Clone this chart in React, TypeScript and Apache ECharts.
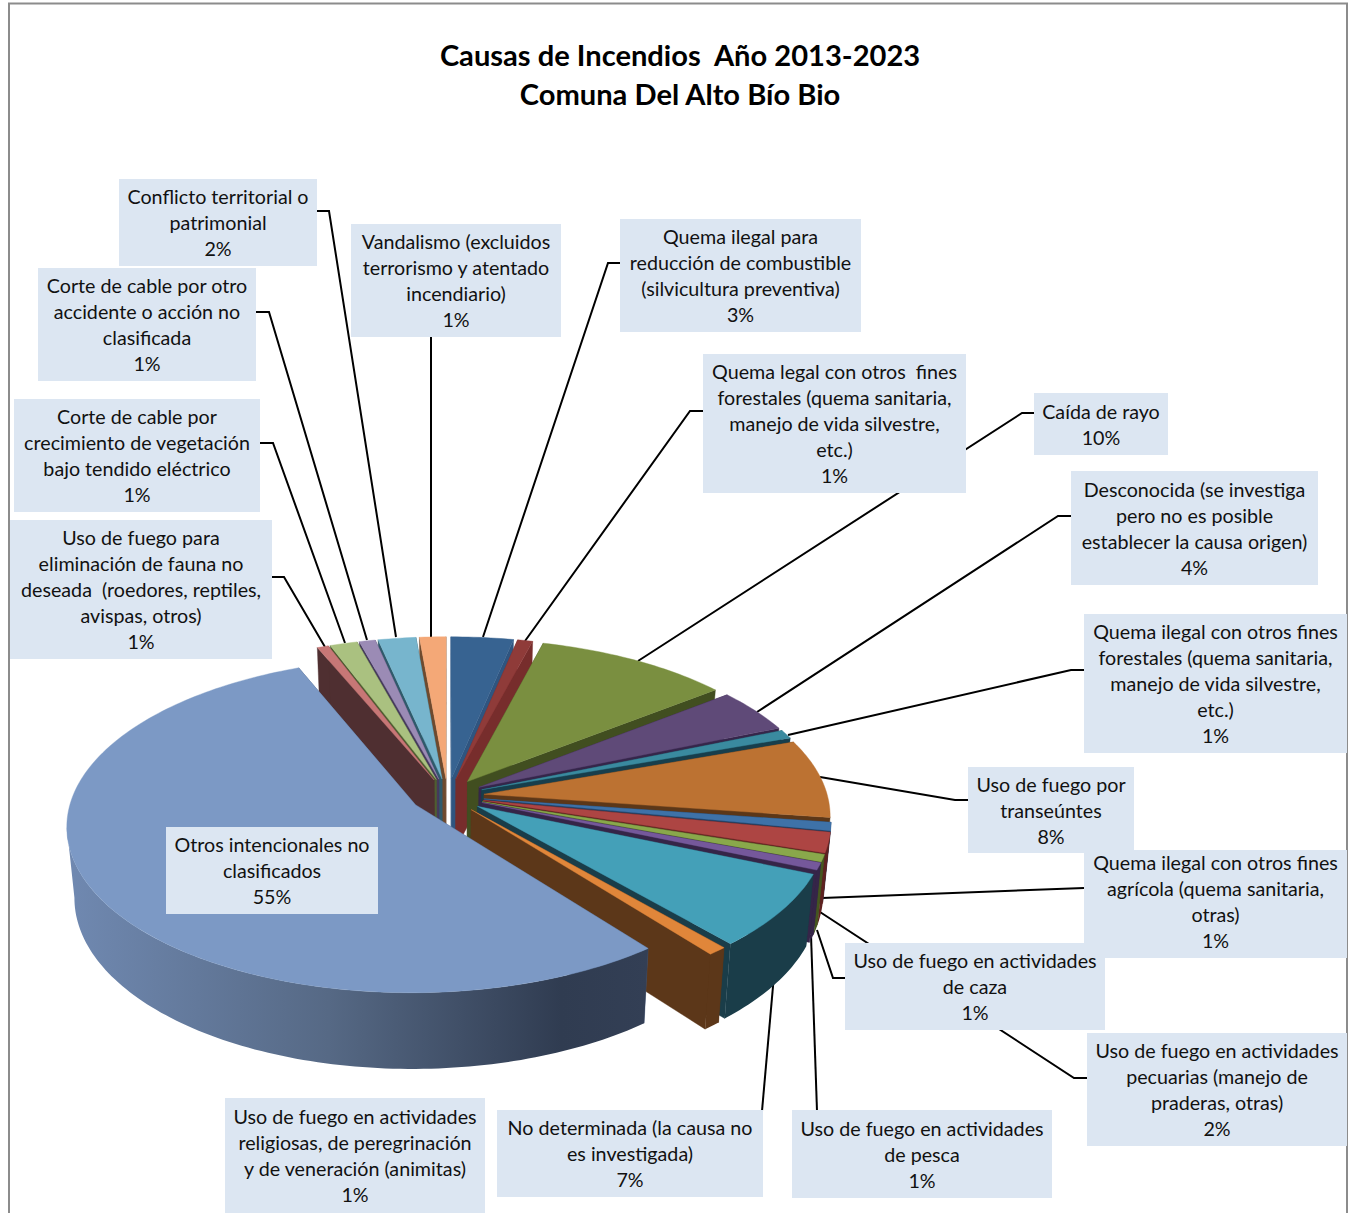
import React, { useEffect, useRef } from "react";
import * as echarts from "echarts";

const titleText = "Causas de Incendios  Año 2013-2023\nComuna Del Alto Bío Bio";

// Slice shares (clockwise from 12 o'clock)
const sliceNames = [
  "Quema ilegal para reducción de combustible (silvicultura preventiva)",
  "Quema legal con otros fines forestales (quema sanitaria, manejo de vida silvestre, etc.)",
  "Caída de rayo",
  "Desconocida (se investiga pero no es posible establecer la causa origen)",
  "Quema ilegal con otros fines forestales (quema sanitaria, manejo de vida silvestre, etc.)",
  "Uso de fuego por transeúntes",
  "Quema ilegal con otros fines agrícola (quema sanitaria, otras)",
  "Uso de fuego en actividades pecuarias (manejo de praderas, otras)",
  "Uso de fuego en actividades de caza",
  "Uso de fuego en actividades de pesca",
  "No determinada (la causa no es investigada)",
  "Uso de fuego en actividades religiosas, de peregrinación y de veneración (animitas)",
  "Otros intencionales no clasificados",
  "Uso de fuego para eliminación de fauna no deseada (roedores, reptiles, avispas, otros)",
  "Corte de cable por crecimiento de vegetación bajo tendido eléctrico",
  "Corte de cable por otro accidente o acción no clasificada",
  "Conflicto territorial o patrimonial",
  "Vandalismo (excluidos terrorismo y atentado incendiario)",
];
const sliceValues = [3.3, 0.8, 10.3, 4.3, 0.85, 7.65, 0.8, 1.95, 0.7, 0.7, 7.2, 0.8, 54.2, 0.6, 1.45, 0.85, 2.0, 1.4];
const topColors = ["#376391", "#8f3b39", "#7a8f40", "#5f4a78", "#3a8a9f", "#bc7232", "#3e72a8", "#ad4543", "#89a84b", "#75589b", "#44a0b8", "#e0863a", "#7c99c5", "#c77776", "#aac180", "#9b8bb5", "#77b5cd", "#f4a877"];
const wallColors = ["#2f5580", "#772d2c", "#414e20", "#35264a", "#173e4c", "#5c3718", "#1f3d5e", "#5e2220", "#45561f", "#352548", "#1a3d49", "#5c3719", "#4a5c7c", "#4f2f31", "#4f5e30", "#453a5c", "#2f5a6b", "#6e4a2e"];
const drawOrder = [0, 1, 2, 3, 4, 5, 6, 7, 8, 9, 10, 11, 17, 16, 15, 14, 13, 12];

// Label texts
const labelTexts = [
  "Conflicto territorial o\npatrimonial\n2%",
  "Corte de cable por otro\naccidente o acción no\nclasificada\n1%",
  "Corte de cable por\ncrecimiento de vegetación\nbajo tendido eléctrico\n1%",
  "Uso de fuego para\neliminación de fauna no\ndeseada  (roedores, reptiles,\navispas, otros)\n1%",
  "Vandalismo (excluidos\nterrorismo y atentado\nincendiario)\n1%",
  "Quema ilegal para\nreducción de combustible\n(silvicultura preventiva)\n3%",
  "Quema legal con otros  fines\nforestales (quema sanitaria,\nmanejo de vida silvestre,\netc.)\n1%",
  "Caída de rayo\n10%",
  "Desconocida (se investiga\npero no es posible\nestablecer la causa origen)\n4%",
  "Quema ilegal con otros fines\nforestales (quema sanitaria,\nmanejo de vida silvestre,\netc.)\n1%",
  "Uso de fuego por\ntranseúntes\n8%",
  "Quema ilegal con otros fines\nagrícola (quema sanitaria,\notras)\n1%",
  "Uso de fuego en actividades\nde caza\n1%",
  "Uso de fuego en actividades\npecuarias (manejo de\npraderas, otras)\n2%",
  "Uso de fuego en actividades\nde pesca\n1%",
  "No determinada (la causa no\nes investigada)\n7%",
  "Uso de fuego en actividades\nreligiosas, de peregrinación\ny de veneración (animitas)\n1%",
  "Otros intencionales no\nclasificados\n55%",
];
// Label layout: box [x0, y0, x1, y1]
const labelBoxes = [
  [119, 179, 317, 266], [38, 268, 256, 381], [14, 399, 260, 512], [10, 520, 272, 659],
  [351, 224, 561, 337], [620, 219, 861, 332], [703, 354, 966, 493], [1034, 393, 1168, 455],
  [1071, 471, 1318, 585], [1084, 614, 1347, 753], [968, 767, 1134, 853], [1084, 850, 1347, 958],
  [845, 943, 1105, 1030], [1087, 1033, 1347, 1146], [792, 1110, 1052, 1198], [497, 1110, 763, 1197],
  [225, 1098, 485, 1213], [166, 827, 378, 914],
];
const labelNudgeY: Record<number, number> = { 11: -3 };
// Leader lines
const leaderLines = [
  [[317, 211], [329, 211], [396, 637]],
  [[256, 312], [269, 312], [367, 640]],
  [[260, 443], [273, 443], [345, 643]],
  [[272, 577], [284, 577], [325, 647]],
  [[431, 337], [431, 638]],
  [[620, 263], [608, 263], [483, 637]],
  [[703, 411], [690, 411], [525, 641]],
  [[1034, 413], [1022, 413], [638, 661]],
  [[1071, 516], [1058, 516], [757, 712]],
  [[1084, 670], [1071, 670], [788, 735]],
  [[968, 800], [955, 800], [820, 777]],
  [[1084, 888], [822, 898]],
  [[845, 978], [833, 978], [817, 930]],
  [[1087, 1078], [1074, 1078], [820, 912]],
  [[817, 1111], [811, 935]],
  [[762, 1111], [774, 975]],
];

// Pie geometry
const CX = 447.5, CY = 796, RX = 343.5, RY = 163, PERSP = 0.12, EXPLODE = 0.107, DEPTH = 70, BOTTOM_SCALE = 0.98;
const FONT = "Lato, Carlito, sans-serif";

const total = sliceValues.reduce((a, b) => a + b, 0);
const startAngles: number[] = [];
sliceValues.reduce((acc, v, i) => {
  startAngles[i] = (acc / total) * Math.PI * 2;
  return acc + v;
}, 0);

function proj(ox: number, oy: number, theta: number, r: number, bottom: boolean): number[] {
  const X = ox + r * Math.sin(theta);
  const Y = oy + r * Math.cos(theta);
  const w = 1 + PERSP * Y;
  const s = bottom ? BOTTOM_SCALE : 1;
  return [CX + (RX * X * s) / w, CY - (RY * Y * s) / w + (bottom ? DEPTH / w : 0)];
}

// Angles where the slice's circle reaches its right-most and left-most screen x:
// only the rim between them faces the viewer.
function silhouette(ox: number, oy: number): number[] {
  let right = 0, left = 0, maxX = -Infinity, minX = Infinity;
  for (let k = 0; k < 1440; k++) {
    const t = (k / 1440) * Math.PI * 2;
    const x = proj(ox, oy, t, 1, false)[0];
    if (x > maxX) { maxX = x; right = t; }
    if (x < minX) { minX = x; left = t; }
  }
  return [right, left];
}

function arc(ox: number, oy: number, from: number, to: number, bottom: boolean): number[][] {
  const steps = Math.max(3, Math.ceil((to - from) / 0.02));
  const out: number[][] = [];
  for (let k = 0; k <= steps; k++) out.push(proj(ox, oy, from + ((to - from) * k) / steps, 1, bottom));
  return out;
}

function renderItem(_p: any, api: any) {
  const i = api.value(0) as number;
  const a0 = startAngles[i];
  const a1 = a0 + (sliceValues[i] / total) * Math.PI * 2;
  const mid = (a0 + a1) / 2;
  const ox = EXPLODE * Math.sin(mid);
  const oy = EXPLODE * Math.cos(mid);
  const topArc = arc(ox, oy, a0, a1, false);
  const cTop = proj(ox, oy, 0, 0, false);
  const cBot = proj(ox, oy, 0, 0, true);
  const wall = wallColors[i];
  const children: any[] = [];
  const poly = (points: number[][], fill: any) => ({
    type: "polygon",
    shape: { points },
    style: { fill, stroke: fill, lineWidth: 0.4 },
  });
  // Radial walls
  children.push(poly([cTop, proj(ox, oy, a0, 1, false), proj(ox, oy, a0, 1, true), cBot], wall));
  children.push(poly([cTop, proj(ox, oy, a1, 1, false), proj(ox, oy, a1, 1, true), cBot], wall));
  // Outer rim wall: only the part facing the viewer
  const [right, left] = silhouette(ox, oy);
  const from = Math.max(a0, right);
  const to = Math.min(a1, left);
  if (to > from) {
    const rimFill =
      i === 12
        ? new echarts.graphic.LinearGradient(0, 0, 1, 0, [
            { offset: 0, color: "#7089b1" },
            { offset: 0.45, color: "#566985" },
            { offset: 0.85, color: "#303c51" },
            { offset: 1, color: "#333f55" },
          ])
        : wall;
    children.push({
      type: "polygon",
      shape: { points: arc(ox, oy, from, to, false).concat(arc(ox, oy, from, to, true).reverse()) },
      style: { fill: rimFill, lineWidth: 0 },
    });
  }
  // Top face
  children.push(poly([cTop, ...topArc], topColors[i]));
  return { type: "group", children };
}

export default function App() {
  const ref = useRef<HTMLDivElement>(null);
  useEffect(() => {
    const chart = echarts.init(ref.current!, undefined, { renderer: "svg" });
    const graphics: any[] = [
      {
        type: "rect",
        z: 0,
        silent: true,
        shape: { x: 9, y: 3.5, width: 1338, height: 1230 },
        style: { fill: "#ffffff", stroke: "#8c8c8c", lineWidth: 2 },
      },
    ];
    leaderLines.forEach((pts) => {
      graphics.push({
        type: "polyline",
        z: 1,
        silent: true,
        shape: { points: pts },
        style: { fill: "none", stroke: "#000000", lineWidth: 2 },
      });
    });
    labelBoxes.forEach((b, i) => {
      graphics.push({
        type: "rect",
        z: 10,
        silent: true,
        shape: { x: b[0], y: b[1], width: b[2] - b[0], height: b[3] - b[1] },
        style: { fill: "#dce6f2" },
      });
      graphics.push({
        type: "text",
        z: 11,
        silent: true,
        x: (b[0] + b[2]) / 2,
        y: (b[1] + b[3]) / 2 + (labelNudgeY[i] || 0),
        style: {
          text: labelTexts[i],
          fill: "#111111",
          font: `19.7px ${FONT}`,
          align: "center",
          verticalAlign: "middle",
          lineHeight: 26,
        },
      });
    });
    chart.setOption({
      animation: false,
      backgroundColor: "#ffffff",
      title: {
        text: titleText,
        left: 675,
        top: 30,
        textAlign: "center",
        z: 12,
        textStyle: { fontFamily: FONT, fontSize: 29.1, fontWeight: "bold", color: "#000000", lineHeight: 39 },
      },
      graphic: { elements: graphics },
      series: [
        {
          type: "custom",
          coordinateSystem: "none",
          silent: true,
          z: 5,
          clip: false,
          renderItem,
          data: drawOrder.map((i) => ({ name: sliceNames[i], value: [i, sliceValues[i]] })),
        },
      ],
    });
    return () => chart.dispose();
  }, []);
  return <div ref={ref} style={{ position: "absolute", left: 0, top: 0, width: 1353, height: 1213 }} />;
}
